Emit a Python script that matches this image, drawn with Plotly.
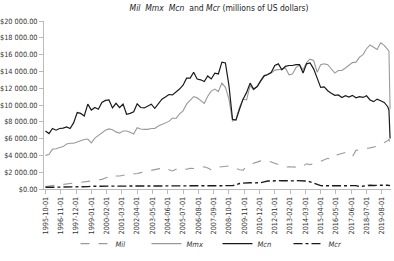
import pandas as pd
import plotly.graph_objects as go

# Dates: quarterly 1995-10 .. 2019-10, then monthly to 2020-03
dates = list(pd.date_range("1995-10-01", "2019-10-01", freq="QS-OCT").strftime("%Y-%m-%d")) + [
    "2020-01-01", "2020-02-01", "2020-03-01"]

mcn = [6.9, 6.6, 7.2, 7.0, 7.2, 7.25, 7.4, 7.2, 7.9, 9.1,
       9.0, 8.7, 10.1, 9.4, 9.7, 9.5, 10.3, 10.55, 10.6, 9.65,
       10.2, 9.7, 10.1, 8.9, 9.0, 9.2, 10.15, 9.7, 9.65, 9.9,
       10.1, 9.6, 10.1, 10.7, 10.95, 11.25, 11.2, 11.5, 11.9, 12.35,
       13.2, 13.2, 13.9, 13.1, 13.0, 12.8, 13.45, 13.1, 13.8, 13.7,
       15.1, 15.0, 12.3, 8.3, 8.2, 9.5, 10.7, 11.5, 12.6, 11.9,
       12.2, 12.9, 13.5, 13.6, 13.9, 14.7, 14.9, 14.2, 14.6, 14.7,
       14.7, 14.8, 14.8, 13.8, 14.9, 15.0, 14.3, 13.2, 12.1, 12.15,
       11.7, 11.4, 11.15, 11.2, 10.9, 11.1, 10.95, 11.15, 10.85, 11.0,
       10.9, 11.1, 10.6, 10.4, 10.7, 10.5, 10.3, 9.8, 9.4, 6.0]

mmx = [4.0, 4.1, 4.75, 4.8, 4.95, 5.05, 5.35, 5.45, 5.45, 5.6,
       5.8, 5.9, 5.95, 5.5, 6.05, 6.35, 6.6, 7.0, 7.15, 7.05,
       6.8, 6.65, 6.9, 6.9, 6.75, 6.55, 7.3, 7.15, 7.1, 7.1,
       7.2, 7.2, 7.5, 7.7, 7.95, 8.05, 8.45, 8.4, 8.95, 9.3,
       10.1, 10.6, 11.0, 10.85, 10.55, 10.2, 11.05, 11.65, 11.9, 11.6,
       12.6, 12.1, 10.7, 8.1, 8.3, 9.7, 10.7, 10.6, 12.3, 11.8,
       12.2, 12.8, 13.4, 13.7, 13.8, 14.15, 14.2, 14.25, 14.4, 13.6,
       13.7, 14.45, 14.75, 14.2, 15.05, 15.45, 15.3, 13.9, 14.8, 14.9,
       14.8, 14.3, 13.8, 14.1, 14.1, 14.4, 14.7, 15.05, 15.1, 15.7,
       16.0, 16.7, 17.15, 16.9, 16.6, 17.4, 17.1, 16.6, 16.4, 9.5]

mil = [0.3, 0.35, 0.4, 0.47, 0.5, 0.55, 0.58, 0.6, 0.64, 0.7,
       0.78, 0.85, 0.88, 0.93, 1.0, 1.1, 1.15, 1.3, 1.45, 1.7,
       1.55, 1.55, 1.65, 1.7, 1.75, 1.78, 1.85, 1.95, 2.05, 2.1,
       2.2, 2.3, 2.4, 2.45, 2.55, 2.3, 2.15, 2.35, 2.55, 2.45,
       2.35, 2.45, 2.4, 2.42, 2.5, 2.65, 2.5, 2.3, 2.55, 2.6,
       2.6, 2.65, 2.75, 2.6, 2.45, 2.3, 2.25, 2.7, 2.95, 3.05,
       3.2, 3.35, 3.45, 3.35, 3.2, 3.1, 2.95, 2.8, 2.6, 2.65,
       2.65, 2.6, 2.5, 2.8, 3.0, 2.9, 3.0, 3.15, 3.3, 3.5,
       3.65, 3.55, 3.95, 4.1, 4.2, 4.35, 4.25, 3.85, 4.6, 4.7,
       4.78, 4.85, 4.9, 5.0, 5.1, 5.3, 5.5, 5.75, 5.95, 5.3]

mcr = [0.2, 0.2, 0.2, 0.2, 0.2, 0.2, 0.22, 0.22, 0.22, 0.25,
       0.25, 0.25, 0.28, 0.33, 0.33, 0.33, 0.33, 0.33, 0.33, 0.33,
       0.33, 0.33, 0.33, 0.33, 0.33, 0.33, 0.33, 0.33, 0.33, 0.33,
       0.33, 0.33, 0.33, 0.33, 0.33, 0.33, 0.33, 0.33, 0.33, 0.33,
       0.33, 0.33, 0.33, 0.33, 0.33, 0.33, 0.35, 0.35, 0.35, 0.35,
       0.35, 0.35, 0.35, 0.4, 0.5, 0.65, 0.7, 0.75, 0.75, 0.72,
       0.7, 0.75, 0.85, 0.95, 0.95, 1.0, 1.0, 0.98, 0.95, 0.95,
       0.97, 1.0, 1.0, 0.97, 0.95, 0.85, 0.7, 0.5, 0.4, 0.38,
       0.38, 0.38, 0.38, 0.38, 0.38, 0.38, 0.38, 0.45, 0.4, 0.3,
       0.35, 0.45, 0.45, 0.42, 0.45, 0.45, 0.45, 0.45, 0.45, 0.4]

x_tick_dates = ["1995-10-01", "1996-11-01", "1997-12-01", "1999-01-01", "2000-02-01",
                "2001-03-01", "2002-04-01", "2003-05-01", "2004-06-01", "2005-07-01",
                "2006-08-01", "2007-09-01", "2008-10-01", "2009-11-01", "2010-12-01",
                "2012-01-01", "2013-02-01", "2014-03-01", "2015-04-01", "2016-05-01",
                "2017-06-01", "2018-07-01", "2019-08-01"]
y_tick_vals = [0, 2000, 4000, 6000, 8000, 10000, 12000, 14000, 16000, 18000, 20000]
y_tick_text = ["$0.00", "$2 000.00", "$4 000.00", "$6 000.00", "$8 000.00", "$10 000.00",
               "$12 000.00", "$14 000.00", "$16 000.00", "$18 000.00", "$20 000.00"]

FONT = "DejaVu Sans Condensed, Liberation Sans Narrow, sans-serif"

def k(v):
    return [a * 1000 for a in v]

fig = go.Figure()
fig.add_trace(go.Scatter(x=dates, y=k(mil), name="<i>Mil</i>", mode="lines",
                         line=dict(color="#9a9a9a", width=1.1, dash="dash")))
fig.add_trace(go.Scatter(x=dates, y=k(mmx), name="<i>Mmx</i>", mode="lines",
                         line=dict(color="#9a9a9a", width=1.1)))
fig.add_trace(go.Scatter(x=dates, y=k(mcn), name="<i>Mcn</i>", mode="lines",
                         line=dict(color="#1a1a1a", width=1.2)))
fig.add_trace(go.Scatter(x=dates, y=k(mcr), name="<i>Mcr</i>", mode="lines",
                         line=dict(color="#1a1a1a", width=1.4, dash="dashdot")))

fig.update_layout(
    width=394, height=261,
    margin=dict(l=44, r=3, t=21, b=64),
    paper_bgcolor="white", plot_bgcolor="white",
    font=dict(family=FONT, size=7.5, color="#333333"),
    title=dict(text="<i>Mil</i>  <i>Mmx</i>  <i>Mcn</i>  and <i>Mcr</i> (millions of US dollars)",
               x=0.556, xanchor="center", y=0.969, yanchor="middle",
               font=dict(family=FONT, size=8.5, color="#222222")),
    showlegend=True,
    legend=dict(orientation="h", x=0.5, xanchor="center", y=-0.325, yanchor="middle",
                font=dict(family=FONT, size=7.5, color="#333333"),
                itemwidth=30, entrywidth=26, entrywidthmode="pixels",
                bgcolor="rgba(0,0,0,0)"),
)
fig.update_xaxes(
    type="date", range=["1995-08-25", "2020-03-25"], automargin=False,
    tickvals=x_tick_dates, ticktext=x_tick_dates, tickangle=-90,
    showgrid=False, zeroline=False,
    showline=True, linecolor="#bbbbbb", linewidth=1,
    ticks="outside", ticklen=4, tickcolor="#bbbbbb",
    tickfont=dict(family=FONT, size=7.2, color="#333333"),
)
fig.update_yaxes(
    range=[0, 20000], tickvals=y_tick_vals, ticktext=y_tick_text, automargin=False,
    showgrid=False, zeroline=False,
    showline=True, linecolor="#bbbbbb", linewidth=1,
    ticks="outside", ticklen=4, tickcolor="#bbbbbb",
    tickfont=dict(family=FONT, size=7.3, color="#333333"),
)

fig.write_html("out.html", config={"displayModeBar": False},
               post_script="document.body.style.margin='0';")
